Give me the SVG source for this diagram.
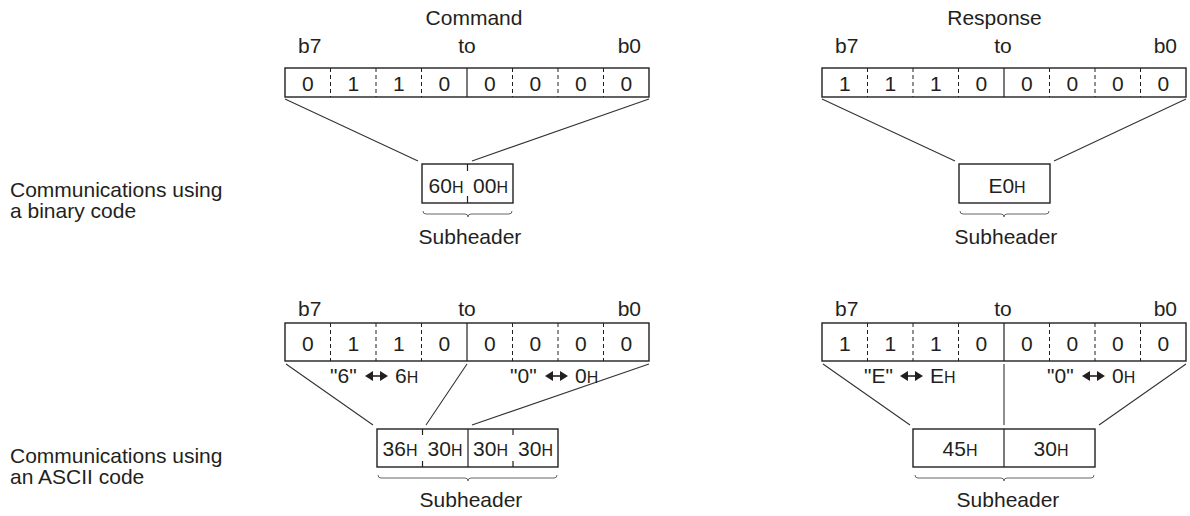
<svg xmlns="http://www.w3.org/2000/svg" xmlns:xlink="http://www.w3.org/1999/xlink" width="1190" height="516" viewBox="0 0 1190 516">
<style>
text{font-family:"Liberation Sans",Arial,sans-serif;font-size:21px;fill:#231f20}
.m{text-anchor:middle}
.e{text-anchor:end}
.h{font-size:16px}
.box{fill:#fff;stroke:#231f20;stroke-width:1.4}
.sol{stroke:#231f20;stroke-width:1.2;fill:none}
.dash{stroke:#231f20;stroke-width:1;stroke-dasharray:4 3;fill:none}
.con{stroke:#333;stroke-width:1.1;fill:none}
.brace{stroke:#666;stroke-width:1;fill:none}
</style>
<defs>
<g id="dar">
<path d="M0,0 L8,-5 L8,5 Z M23,0 L15,-5 L15,5 Z" fill="#231f20"/>
<path d="M7,0 H16" stroke="#231f20" stroke-width="1.6"/>
</g>
<g id="divA">
<path class="dash" d="M45.5,0 V29 M91,0 V29 M136.5,0 V29 M227.5,0 V29 M273,0 V29 M318.5,0 V29"/>
<path class="sol" d="M182,0 V29"/>
</g>
<g id="divB">
<path class="dash" d="M45.5,0 V38 M91,0 V38 M136.5,0 V38 M227.5,0 V38 M273,0 V38 M318.5,0 V38"/>
<path class="sol" d="M182,0 V38"/>
</g>
</defs>

<g id="labels">
<text x="10" y="197">Communications using</text>
<text x="10" y="218">a binary code</text>
<text x="10" y="463">Communications using</text>
<text x="10" y="484">an ASCII code</text>
</g>

<g id="connectors">
<path class="con" d="M285,99 L418,161 M649,99 L472,161"/>
<path class="con" d="M822,99 L955,161 M1186,99 L1054,161"/>
<path class="con" d="M286,364 L373,425 M467,364 L426,425 M649,364 L472,425"/>
<path class="con" d="M823,364 L910,425 M1004,364 V425 M1186,364 L1099,425"/>
</g>

<g id="cmd-bin-reg">
<text x="474" y="25" class="m">Command</text>
<text x="298" y="53">b7</text>
<text x="467" y="53" class="m">to</text>
<text x="641" y="53" class="e">b0</text>
<rect x="285" y="68" width="364" height="29" class="box"/>
<use xlink:href="#divA" x="285" y="68"/>
<text y="90.5" class="m"><tspan x="307.75">0</tspan><tspan x="353.25">1</tspan><tspan x="398.75">1</tspan><tspan x="444.25">0</tspan><tspan x="489.75">0</tspan><tspan x="535.25">0</tspan><tspan x="580.75">0</tspan><tspan x="626.25">0</tspan></text>
</g>

<g id="cmd-bin-sub">
<rect x="422" y="164" width="91" height="39" class="box"/>
<path class="sol" d="M467.5,164 V171 M467.5,196 V203"/>
<text x="446" y="193" class="m">60<tspan class="h">H</tspan></text>
<text x="490.5" y="193" class="m">00<tspan class="h">H</tspan></text>
<path class="brace" d="M423,211 Q423,214 426,214 H465 Q468,214 468,217 Q468,214 471,214 H509 Q512,214 512,211"/>
<text x="470" y="244" class="m">Subheader</text>
</g>

<g id="res-bin-reg">
<text x="994.5" y="25" class="m">Response</text>
<text x="835" y="53">b7</text>
<text x="1003" y="53" class="m">to</text>
<text x="1177" y="53" class="e">b0</text>
<rect x="822" y="68" width="364" height="29" class="box"/>
<use xlink:href="#divA" x="822" y="68"/>
<text y="90.5" class="m"><tspan x="844.75">1</tspan><tspan x="890.25">1</tspan><tspan x="935.75">1</tspan><tspan x="981.25">0</tspan><tspan x="1026.75">0</tspan><tspan x="1072.25">0</tspan><tspan x="1117.75">0</tspan><tspan x="1163.25">0</tspan></text>
</g>

<g id="res-bin-sub">
<rect x="959" y="164" width="91" height="39" class="box"/>
<text x="1007" y="193" class="m">E0<tspan class="h">H</tspan></text>
<path class="brace" d="M960,211 Q960,214 963,214 H1001 Q1004,214 1004,217 Q1004,214 1007,214 H1046 Q1049,214 1049,211"/>
<text x="1006" y="244" class="m">Subheader</text>
</g>

<g id="cmd-ascii-reg">
<text x="298" y="316">b7</text>
<text x="467" y="316" class="m">to</text>
<text x="641" y="316" class="e">b0</text>
<rect x="285" y="323" width="364" height="38" class="box"/>
<use xlink:href="#divB" x="285" y="323"/>
<text y="351" class="m"><tspan x="307.75">0</tspan><tspan x="353.25">1</tspan><tspan x="398.75">1</tspan><tspan x="444.25">0</tspan><tspan x="489.75">0</tspan><tspan x="535.25">0</tspan><tspan x="580.75">0</tspan><tspan x="626.25">0</tspan></text>
<text x="330" y="383">"6"</text>
<use xlink:href="#dar" x="365" y="376"/>
<text x="395" y="383">6<tspan class="h">H</tspan></text>
<text x="510" y="383">"0"</text>
<use xlink:href="#dar" x="545" y="376"/>
<text x="575" y="383">0<tspan class="h">H</tspan></text>
</g>

<g id="cmd-ascii-sub">
<rect x="377" y="429" width="181" height="38" class="box"/>
<path class="sol" d="M422.5,429 V435 M422.5,461 V467 M513,429 V435 M513,461 V467 M468,429 V467"/>
<text x="400" y="456" class="m">36<tspan class="h">H</tspan></text>
<text x="445" y="456" class="m">30<tspan class="h">H</tspan></text>
<text x="490.5" y="456" class="m">30<tspan class="h">H</tspan></text>
<text x="535.5" y="456" class="m">30<tspan class="h">H</tspan></text>
<path class="brace" d="M378,475 Q378,478 381,478 H465 Q468,478 468,481 Q468,478 471,478 H554 Q557,478 557,475"/>
<text x="471" y="507" class="m">Subheader</text>
</g>

<g id="res-ascii-reg">
<text x="835" y="316">b7</text>
<text x="1003" y="316" class="m">to</text>
<text x="1177" y="316" class="e">b0</text>
<rect x="822" y="323" width="364" height="38" class="box"/>
<use xlink:href="#divB" x="822" y="323"/>
<text y="351" class="m"><tspan x="844.75">1</tspan><tspan x="890.25">1</tspan><tspan x="935.75">1</tspan><tspan x="981.25">0</tspan><tspan x="1026.75">0</tspan><tspan x="1072.25">0</tspan><tspan x="1117.75">0</tspan><tspan x="1163.25">0</tspan></text>
<text x="864" y="383">"E"</text>
<use xlink:href="#dar" x="900" y="376"/>
<text x="930" y="383">E<tspan class="h">H</tspan></text>
<text x="1047" y="383">"0"</text>
<use xlink:href="#dar" x="1082" y="376"/>
<text x="1112" y="383">0<tspan class="h">H</tspan></text>
</g>

<g id="res-ascii-sub">
<rect x="913" y="429" width="182" height="38" class="box"/>
<path class="sol" d="M1004,429 V467"/>
<text x="960" y="456" class="m">45<tspan class="h">H</tspan></text>
<text x="1051" y="456" class="m">30<tspan class="h">H</tspan></text>
<path class="brace" d="M915,475 Q915,478 918,478 H1001 Q1004,478 1004,481 Q1004,478 1007,478 H1091 Q1094,478 1094,475"/>
<text x="1008" y="507" class="m">Subheader</text>
</g>
</svg>
